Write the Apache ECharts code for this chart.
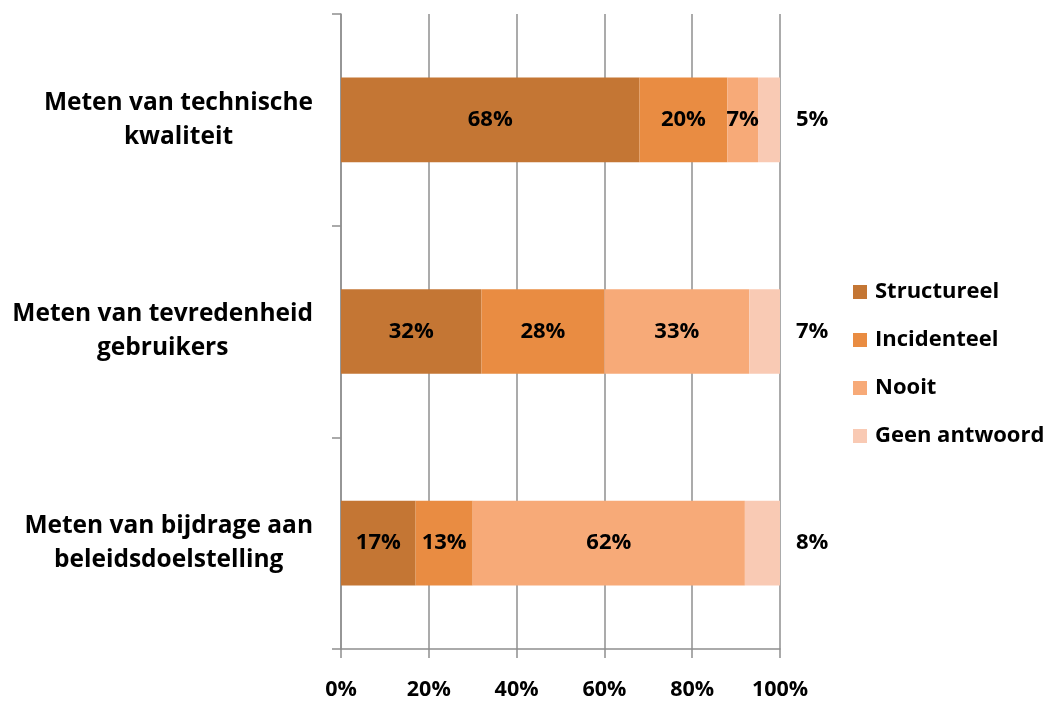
<!DOCTYPE html>
<html>
<head>
<meta charset="utf-8">
<script src="https://cdn.jsdelivr.net/npm/echarts@6/dist/echarts.min.js"></script>
<style>
html,body{margin:0;padding:0;background:#fff;}
#chart{width:1047px;height:702px;}
</style>
</head>
<body>
<div id="chart"></div>
<script>
const categories = [
  'Meten van technische\nkwaliteit',
  'Meten van tevredenheid\ngebruikers',
  'Meten van bijdrage aan\nbeleidsdoelstelling'
];
const seriesNames = ['Structureel', 'Incidenteel', 'Nooit', 'Geen antwoord'];
const structureel = [68, 32, 17];
const incidenteel = [20, 28, 13];
const nooit = [7, 33, 62];
const geenAntwoord = [5, 7, 8];
const xTicks = [0, 20, 40, 60, 80, 100];

const colors = ['#C47634', '#E98C42', '#F7AA78', '#F9CAB4'];
const font = '"Open Sans", "DejaVu Sans", sans-serif';
const values = [structureel, incidenteel, nooit, geenAntwoord];

const chart = echarts.init(document.getElementById('chart'), null, {renderer: 'canvas'});
chart.setOption({
  animation: false,
  backgroundColor: '#ffffff',
  grid: {left: 341, right: 267, top: 14, bottom: 53, containLabel: false},
  legend: {
    orient: 'vertical',
    left: 848,
    top: 275,
    itemWidth: 14,
    itemHeight: 14,
    itemGap: 24,
    icon: 'rect',
    data: seriesNames,
    textStyle: {fontFamily: font, fontWeight: 'bold', fontSize: 22, color: '#000', lineHeight: 24, padding: [0,0,0,3]}
  },
  xAxis: {
    type: 'value',
    min: xTicks[0],
    max: xTicks[xTicks.length - 1],
    interval: xTicks[1] - xTicks[0],
    axisLine: {show: true, lineStyle: {color: '#8f8f8f', width: 1.5}},
    axisTick: {show: true, length: 9, lineStyle: {color: '#8f8f8f', width: 1.5}},
    splitLine: {show: true, lineStyle: {color: '#8f8f8f', width: 1.5}},
    axisLabel: {formatter: '{value}%', margin: 30, fontFamily: font, fontWeight: 'bold', fontSize: 21.5, color: '#000'}
  },
  yAxis: {
    type: 'category',
    inverse: true,
    data: categories,
    axisLine: {show: true, lineStyle: {color: '#8f8f8f', width: 1.5}},
    axisTick: {show: true, length: 9, lineStyle: {color: '#8f8f8f', width: 1.5}},
    axisLabel: {
      align: 'right',
      margin: 28,
      fontFamily: font, fontWeight: 'bold', fontSize: 24.5, lineHeight: 34, color: '#000',
      formatter: v => v.split('\n').map(s => '{c|' + s + '}').join('\n'),
      rich: {c: {align: 'center', fontFamily: font, fontWeight: 'bold', fontSize: 24.5, lineHeight: 34, color: '#000'}}
    }
  },
  series: seriesNames.map((name, i) => ({
    name: name,
    type: 'bar',
    stack: 'total',
    barCategoryGap: '60%',
    data: values[i],
    itemStyle: {color: colors[i]},
    label: {
      show: true,
      position: i === 3 ? 'right' : 'inside',
      distance: 16,
      formatter: '{c}%',
      fontFamily: font,
      fontWeight: 'bold',
      fontSize: 22,
      color: '#000'
    }
  }))
});
</script>
</body>
</html>
